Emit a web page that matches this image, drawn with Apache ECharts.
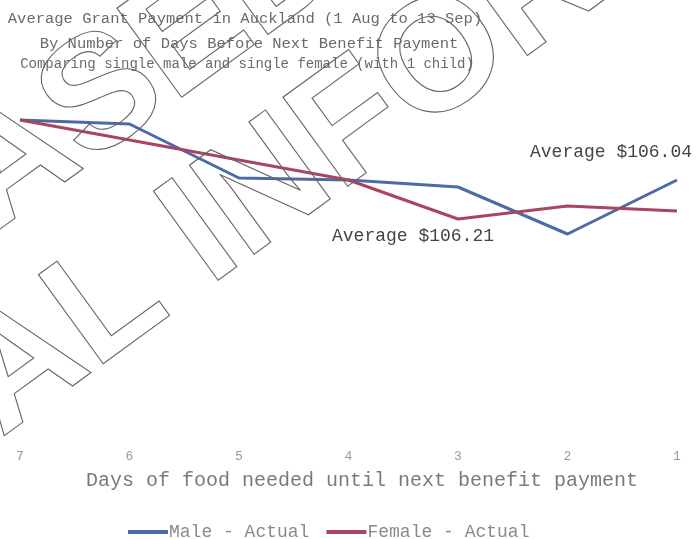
<!DOCTYPE html>
<html>
<head>
<meta charset="utf-8">
<script src="https://cdn.jsdelivr.net/npm/echarts@6/dist/echarts.min.js"></script>
<style>
  html, body { margin: 0; padding: 0; background: #fff; }
  #main { width: 700px; height: 539px; }
</style>
</head>
<body>
<div id="main"></div>
<script>
// days of food needed until next benefit payment
var days = ['7', '6', '5', '4', '3', '2', '1'];
// average grant payment ($)
var maleActual = [120, 119, 105.5, 105, 103.25, 91.5, 105];
var femaleActual = [120, 115, 110, 105, 95.25, 98.5, 97.25];

var titleLines = [
  'Average Grant Payment in Auckland (1 Aug to 13 Sep)',
  'By Number of Days Before Next Benefit Payment',
  'Comparing single male and single female (with 1 child)'
];
var maleAvgLabel = 'Average $106.04';
var femaleAvgLabel = 'Average $106.21';

var mono = '"Liberation Mono", "DejaVu Sans Mono", monospace';

var chart = echarts.init(document.getElementById('main'));

var wmAngle = 36 * Math.PI / 180;

chart.setOption({
  animation: false,
  backgroundColor: '#fff',
  title: [
    {
      text: titleLines[0],
      left: 240, top: 6, textAlign: 'center',
      textStyle: { fontFamily: mono, fontSize: 15.5, fontWeight: 'normal', color: '#6a6a6a' }
    },
    {
      text: titleLines[1],
      left: 244, top: 31, textAlign: 'center',
      textStyle: { fontFamily: mono, fontSize: 15.5, fontWeight: 'normal', color: '#6a6a6a' }
    },
    {
      text: titleLines[2],
      left: 242, top: 52, textAlign: 'center',
      textStyle: { fontFamily: mono, fontSize: 14, fontWeight: 'normal', color: '#6a6a6a' }
    }
  ],
  legend: {
    top: 518,
    left: 123,
    itemWidth: 40,
    itemHeight: 4,
    itemGap: 17,
    icon: 'rect',
    textStyle: { fontFamily: mono, fontSize: 18, color: '#8a8a8a', padding: [0, 0, 0, -4] },
    data: ['Male - Actual', 'Female - Actual']
  },
  grid: { left: 20, right: 23, top: 100, bottom: 99 },
  xAxis: {
    type: 'category',
    data: days,
    boundaryGap: false,
    axisLine: { show: false },
    axisTick: { show: false },
    axisLabel: { margin: 10, fontFamily: mono, fontSize: 13, color: '#999' },
    name: 'Days of food needed until next benefit payment',
    nameLocation: 'middle',
    nameGap: 31,
    nameTextStyle: { fontFamily: mono, fontSize: 20, color: '#7a7a7a', padding: [0, 0, 0, 27] }
  },
  yAxis: {
    type: 'value',
    min: 40,
    max: 125,
    show: false,
    splitLine: { show: false }
  },
  series: [
    {
      name: 'Male - Actual',
      type: 'line',
      data: maleActual,
      symbol: 'none',
      lineStyle: { width: 3, color: '#4d6aa8' },
      itemStyle: { color: '#4d6aa8' }
    },
    {
      name: 'Female - Actual',
      type: 'line',
      data: femaleActual,
      symbol: 'none',
      lineStyle: { width: 3, color: '#a8455f' },
      itemStyle: { color: '#a8455f' }
    }
  ],
  graphic: [
    {
      type: 'text', left: 530, top: 143, z: 10,
      style: { text: maleAvgLabel, font: '18px ' + mono, fill: '#444' }
    },
    {
      type: 'text', left: 332, top: 227, z: 10,
      style: { text: femaleAvgLabel, font: '18px ' + mono, fill: '#444' }
    },
    // watermark outlines
    {
      type: 'text', x: 423, y: -22, rotation: wmAngle, z: 20, silent: true,
      style: {
        text: 'OFFICIAL INFORMATION ACT',
        font: 'bold 160px "Liberation Sans", sans-serif',
        textAlign: 'center', align: 'center',
        fill: 'none', stroke: '#666', lineWidth: 1.1
      }
    },
    {
      type: 'text', x: 323, y: -159, rotation: wmAngle, z: 20, silent: true,
      style: {
        text: 'RELEASED UNDER THE',
        font: 'bold 160px "Liberation Sans", sans-serif',
        textAlign: 'center', align: 'center',
        fill: 'none', stroke: '#666', lineWidth: 1.1
      }
    }
  ]
});
</script>
</body>
</html>
